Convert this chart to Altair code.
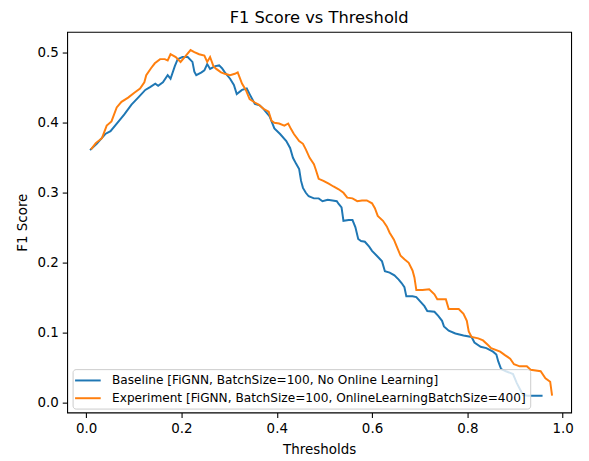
import altair as alt
import pandas as pd

# Baseline series
baseline_thr = [0.008, 0.022, 0.040, 0.051, 0.068, 0.080, 0.095, 0.109, 0.124, 0.134,
                0.145, 0.151, 0.161, 0.171, 0.177, 0.186, 0.192, 0.202, 0.213, 0.223,
                0.227, 0.231, 0.242, 0.248, 0.254, 0.260, 0.271, 0.279, 0.285, 0.291,
                0.302, 0.310, 0.316, 0.327, 0.337, 0.343, 0.354, 0.364, 0.372, 0.385,
                0.395, 0.407, 0.420, 0.428, 0.434, 0.441, 0.447, 0.451, 0.455, 0.461,
                0.467, 0.478, 0.488, 0.496, 0.507, 0.517, 0.526, 0.530, 0.536, 0.540,
                0.551, 0.559, 0.565, 0.571, 0.577, 0.585, 0.594, 0.600, 0.610, 0.621,
                0.627, 0.637, 0.647, 0.656, 0.662, 0.668, 0.672, 0.685, 0.693, 0.702,
                0.710, 0.716, 0.731, 0.739, 0.747, 0.751, 0.761, 0.775, 0.792, 0.809,
                0.815, 0.828, 0.840, 0.854, 0.861, 0.865, 0.871, 0.881, 0.896, 0.904,
                0.910, 0.917, 0.927, 0.958]
baseline_f1 = [0.361, 0.370, 0.384, 0.388, 0.402, 0.412, 0.426, 0.436, 0.447, 0.451,
               0.456, 0.453, 0.458, 0.468, 0.463, 0.481, 0.491, 0.494, 0.494, 0.487,
               0.473, 0.468, 0.472, 0.475, 0.484, 0.477, 0.481, 0.482, 0.478, 0.472,
               0.463, 0.454, 0.441, 0.447, 0.449, 0.441, 0.427, 0.425, 0.420, 0.409,
               0.392, 0.384, 0.374, 0.364, 0.350, 0.341, 0.334, 0.317, 0.307, 0.300,
               0.295, 0.292, 0.292, 0.288, 0.290, 0.289, 0.288, 0.284, 0.279, 0.260,
               0.261, 0.261, 0.251, 0.234, 0.231, 0.230, 0.223, 0.217, 0.210, 0.202,
               0.188, 0.186, 0.182, 0.176, 0.171, 0.165, 0.152, 0.152, 0.151, 0.144,
               0.138, 0.131, 0.130, 0.124, 0.117, 0.109, 0.103, 0.099, 0.096, 0.094,
               0.086, 0.080, 0.078, 0.073, 0.069, 0.059, 0.048, 0.045, 0.041, 0.028,
               0.020, 0.011, 0.010, 0.010]

# Experiment series
experiment_thr = [0.010, 0.020, 0.033, 0.043, 0.053, 0.064, 0.074, 0.088, 0.101, 0.113,
                  0.122, 0.126, 0.136, 0.144, 0.155, 0.165, 0.171, 0.177, 0.188, 0.198,
                  0.208, 0.219, 0.227, 0.237, 0.248, 0.254, 0.260, 0.267, 0.273, 0.283,
                  0.291, 0.302, 0.312, 0.318, 0.327, 0.335, 0.343, 0.354, 0.362, 0.372,
                  0.383, 0.389, 0.395, 0.405, 0.416, 0.424, 0.430, 0.436, 0.447, 0.455,
                  0.461, 0.469, 0.478, 0.482, 0.488, 0.498, 0.509, 0.519, 0.530, 0.540,
                  0.548, 0.559, 0.569, 0.579, 0.589, 0.600, 0.606, 0.612, 0.623, 0.631,
                  0.637, 0.646, 0.652, 0.660, 0.668, 0.677, 0.685, 0.689, 0.693, 0.706,
                  0.720, 0.731, 0.737, 0.755, 0.761, 0.782, 0.792, 0.799, 0.803, 0.809,
                  0.823, 0.833, 0.844, 0.850, 0.869, 0.879, 0.890, 0.898, 0.910, 0.925,
                  0.933, 0.954, 0.964, 0.974, 0.978]
experiment_f1 = [0.362, 0.371, 0.378, 0.396, 0.402, 0.422, 0.430, 0.436, 0.443, 0.449,
                 0.458, 0.468, 0.478, 0.485, 0.491, 0.491, 0.489, 0.498, 0.494, 0.487,
                 0.495, 0.504, 0.501, 0.498, 0.496, 0.487, 0.494, 0.481, 0.477, 0.472,
                 0.470, 0.468, 0.470, 0.472, 0.456, 0.447, 0.434, 0.429, 0.426, 0.420,
                 0.416, 0.403, 0.400, 0.399, 0.396, 0.399, 0.391, 0.384, 0.374, 0.370,
                 0.362, 0.350, 0.341, 0.333, 0.320, 0.317, 0.313, 0.309, 0.305, 0.300,
                 0.293, 0.292, 0.288, 0.289, 0.289, 0.285, 0.278, 0.267, 0.260, 0.252,
                 0.243, 0.233, 0.223, 0.210, 0.205, 0.200, 0.189, 0.179, 0.161, 0.161,
                 0.162, 0.155, 0.148, 0.148, 0.134, 0.134, 0.127, 0.117, 0.102, 0.094,
                 0.092, 0.089, 0.082, 0.078, 0.073, 0.068, 0.063, 0.055, 0.052, 0.052,
                 0.047, 0.045, 0.035, 0.030, 0.010]

series_names = ["Baseline [FiGNN, BatchSize=100, No Online Learning]",
                "Experiment [FiGNN, BatchSize=100, OnlineLearningBatchSize=400]"]
series_colors = ["#1f77b4", "#ff7f0e"]
x_ticks = [0.0, 0.2, 0.4, 0.6, 0.8, 1.0]
y_ticks = [0.0, 0.1, 0.2, 0.3, 0.4, 0.5]
chart_title = "F1 Score vs Threshold"

df = pd.concat([
    pd.DataFrame({"Thresholds": baseline_thr, "F1": baseline_f1, "Series": series_names[0]}),
    pd.DataFrame({"Thresholds": experiment_thr, "F1": experiment_f1, "Series": series_names[1]}),
], ignore_index=True)

FONT = "DejaVu Sans"

chart = alt.Chart(df).mark_line(strokeWidth=2, clip=True).encode(
    x=alt.X("Thresholds:Q",
            scale=alt.Scale(domain=[-0.040, 1.018], nice=False, zero=False),
            axis=alt.Axis(values=x_ticks, format=".1f", title="Thresholds",
                          titleY=42, titleBaseline="alphabetic")),
    y=alt.Y("F1:Q",
            scale=alt.Scale(domain=[-0.014, 0.530], nice=False, zero=False),
            axis=alt.Axis(values=y_ticks, format=".1f", title="F1 Score",
                          titleX=-41.5, titleBaseline="alphabetic")),
    color=alt.Color("Series:N",
                    scale=alt.Scale(domain=series_names, range=series_colors),
                    legend=alt.Legend(orient="none", legendX=5.5, legendY=342,
                                      title=None, symbolType="M-2,0L2,0",
                                      symbolSize=169, symbolStrokeWidth=2,
                                      symbolOffset=4,
                                      labelFontSize=12.3, labelFont=FONT,
                                      labelColor="black", labelLimit=0,
                                      labelOffset=17, rowPadding=4, padding=4,
                                      fillColor="rgba(255,255,255,0.8)",
                                      strokeColor="#cccccc", cornerRadius=3)),
).properties(
    width=511, height=386,
    background="white",
    title=alt.TitleParams(chart_title, font=FONT, fontSize=16.5,
                          fontWeight="normal", color="black", offset=5),
    autosize=alt.AutoSizeParams(type="none"),
    padding={"left": 60, "top": 21, "right": 10, "bottom": 46},
).configure_view(
    stroke="black", strokeWidth=1.1
).configure_axis(
    grid=False, domain=False, ticks=True, tickColor="black", tickWidth=1.1,
    tickSize=5, labelPadding=4, labelFont=FONT, labelFontSize=13.6,
    labelColor="black", titleFont=FONT, titleFontSize=13.6,
    titleFontWeight="normal", titleColor="black",
)

chart.save("out.html", embed_options={"renderer": "svg", "actions": False})
